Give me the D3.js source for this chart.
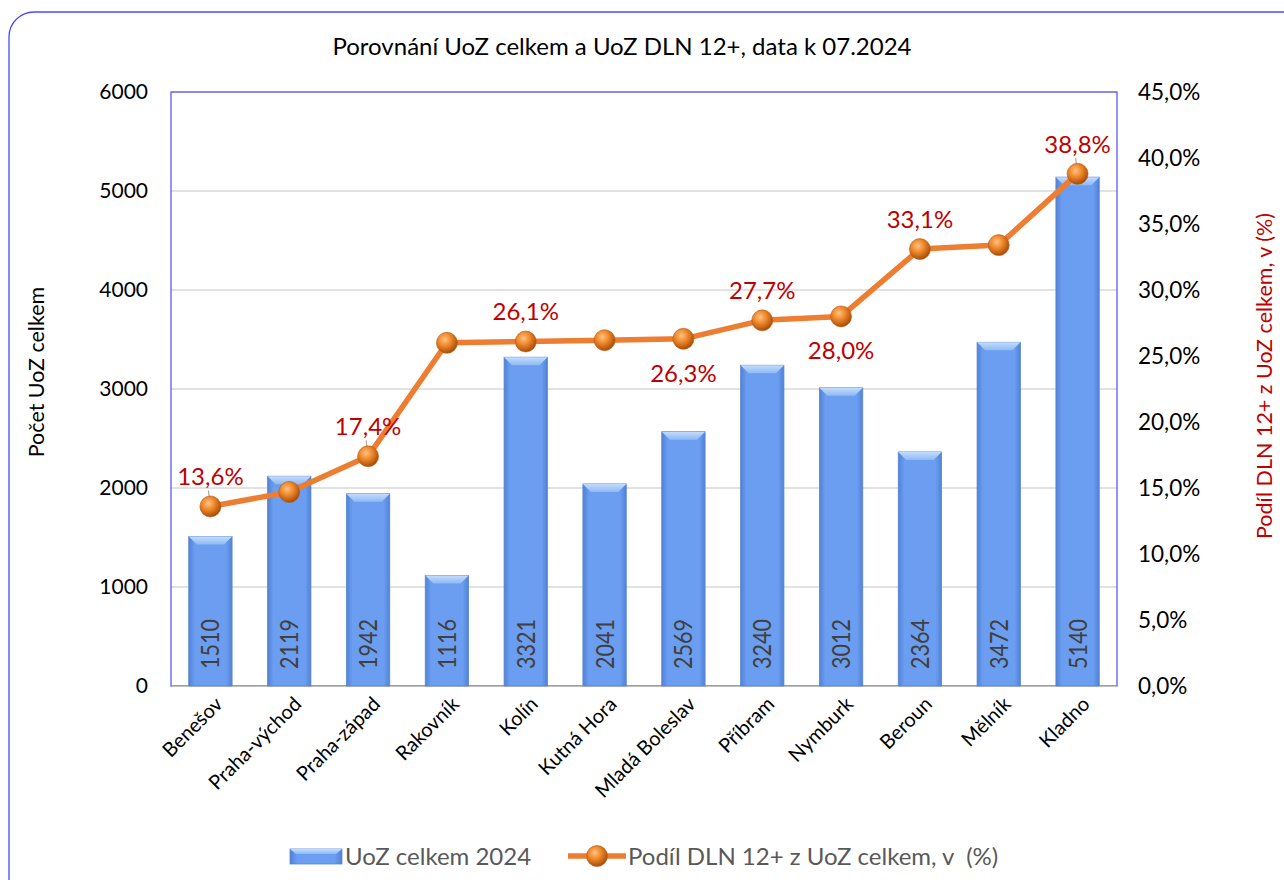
<!DOCTYPE html>
<html>
<head>
<meta charset="utf-8">
<script src="https://cdn.jsdelivr.net/npm/d3@7"></script>
<style>
  body { margin: 0; background: #fff; }
  svg { font-family: Lato, "Open Sans", sans-serif; }
</style>
</head>
<body>
<script>
// data
var districts = ["Benešov", "Praha-východ", "Praha-západ", "Rakovník", "Kolín", "Kutná Hora",
  "Mladá Boleslav", "Příbram", "Nymburk", "Beroun", "Mělník", "Kladno"];
var uozTotal = [1510, 2119, 1942, 1116, 3321, 2041, 2569, 3240, 3012, 2364, 3472, 5140];
var dlnShare = [13.6, 14.7, 17.4, 26.0, 26.1, 26.2, 26.3, 27.7, 28.0, 33.1, 33.4, 38.8];
var leftTicks = [0, 1000, 2000, 3000, 4000, 5000, 6000];
var rightTicks = [0, 5, 10, 15, 20, 25, 30, 35, 40, 45];
// which points get a percentage label, and on which side
var labelSide = ["up", null, "up", null, "up", null, "down", "up", "down", "up", null, "up"];

var svgWidth = 1284;
var svgHeight = 880;

var margin = { top: 92, right: 167, bottom: 194, left: 171 };
var chartWidth = svgWidth - margin.left - margin.right;
var chartHeight = svgHeight - margin.top - margin.bottom;

var svg = d3.select("body")
  .append("svg")
  .attr("width", svgWidth)
  .attr("height", svgHeight);

// gradients
var defs = svg.append("defs");
var barGrad = defs.append("linearGradient").attr("id", "barGrad")
  .attr("x1", 0).attr("x2", 1).attr("y1", 0).attr("y2", 0);
barGrad.append("stop").attr("offset", "0%").attr("stop-color", "#5081d8");
barGrad.append("stop").attr("offset", "14%").attr("stop-color", "#6b9ef0");
barGrad.append("stop").attr("offset", "86%").attr("stop-color", "#6b9ef0");
barGrad.append("stop").attr("offset", "100%").attr("stop-color", "#5081d8");

var bevelGrad = defs.append("linearGradient").attr("id", "bevelGrad")
  .attr("x1", 0).attr("x2", 0).attr("y1", 0).attr("y2", 1);
bevelGrad.append("stop").attr("offset", "0%").attr("stop-color", "#c4dcfc");
bevelGrad.append("stop").attr("offset", "100%").attr("stop-color", "#8dbaf6");

var ball = defs.append("radialGradient").attr("id", "ball")
  .attr("cx", "40%").attr("cy", "35%").attr("r", "65%");
ball.append("stop").attr("offset", "0%").attr("stop-color", "#ffc285");
ball.append("stop").attr("offset", "45%").attr("stop-color", "#f08a2c");
ball.append("stop").attr("offset", "100%").attr("stop-color", "#a84c08");

// outer rounded frame
svg.append("rect")
  .attr("x", 9).attr("y", 12)
  .attr("width", 1300).attr("height", 900)
  .attr("rx", 25)
  .attr("fill", "none")
  .attr("stroke", "#4a4aff")
  .attr("stroke-width", 1.3);

// title
svg.append("text")
  .attr("x", 622).attr("y", 55)
  .attr("text-anchor", "middle")
  .attr("font-size", 24)
  .attr("fill", "#000")
  .text("Porovnání UoZ celkem a UoZ DLN 12+, data k 07.2024");

var chartGroup = svg.append("g")
  .attr("transform", `translate(${margin.left}, ${margin.top})`);

var yScale = d3.scaleLinear().domain([0, 6000]).range([chartHeight, 0]);
var yScale2 = d3.scaleLinear().domain([0, 45]).range([chartHeight, 0]);
var xScale = d3.scaleBand().domain(districts).range([0, chartWidth])
  .paddingInner(0.45).paddingOuter(0.225);

// gridlines
chartGroup.append("g")
  .selectAll("line")
  .data(leftTicks.slice(1))
  .enter().append("line")
  .attr("x1", 0).attr("x2", chartWidth)
  .attr("y1", d => yScale(d)).attr("y2", d => yScale(d))
  .attr("stroke", "#d9d9d9").attr("stroke-width", 1.3);

// plot area border
chartGroup.append("rect")
  .attr("width", chartWidth).attr("height", chartHeight)
  .attr("fill", "none").attr("stroke", "#5a5aff").attr("stroke-width", 1.3);

// left axis
var yAxis = d3.axisLeft(yScale).tickValues(leftTicks).tickSize(0).tickPadding(23)
  .tickFormat(d3.format("d"));
var gl = chartGroup.append("g").call(yAxis);
gl.select(".domain").remove();
gl.selectAll("text").attr("font-size", 21).attr("fill", "#000")
  .attr("font-family", "Lato, sans-serif");

// right axis
var yAxis2 = d3.axisRight(yScale2).tickValues(rightTicks).tickSize(0).tickPadding(21)
  .tickFormat(d => d3.format(".1f")(d).replace(".", ",") + "%");
var gr = chartGroup.append("g").attr("transform", `translate(${chartWidth},0)`).call(yAxis2);
gr.select(".domain").remove();
gr.selectAll("text").attr("font-size", 22.5).attr("fill", "#000")
  .attr("font-family", "Lato, sans-serif");

// x axis
var xAxis = d3.axisBottom(xScale).tickSize(0).tickPadding(12);
var gx = chartGroup.append("g").attr("transform", `translate(0, ${chartHeight})`).call(xAxis);
gx.select(".domain").attr("stroke", "#bfbfbf");
gx.selectAll("text")
  .attr("font-size", 20).attr("fill", "#000")
  .attr("font-family", "Lato, sans-serif")
  .attr("text-anchor", "end")
  .attr("dy", "0.35em")
  .attr("transform", "translate(0,6) rotate(-45)");

// axis titles
svg.append("text")
  .attr("transform", "translate(44, 372) rotate(-90)")
  .attr("text-anchor", "middle")
  .attr("font-size", 21.5).attr("fill", "#000")
  .text("Počet UoZ celkem");

svg.append("text")
  .attr("transform", "translate(1272, 376) rotate(-90)")
  .attr("text-anchor", "middle")
  .attr("font-size", 21.5).attr("fill", "#c00000")
  .text("Podíl DLN 12+ z UoZ celkem, v (%)");

// bars
var bars = chartGroup.append("g").selectAll("g")
  .data(districts)
  .enter().append("g");

bars.append("rect")
  .attr("x", d => xScale(d))
  .attr("y", (d, i) => yScale(uozTotal[i]))
  .attr("width", xScale.bandwidth())
  .attr("height", (d, i) => chartHeight - yScale(uozTotal[i]))
  .attr("fill", "url(#barGrad)")
  .attr("stroke", "#5b86d4").attr("stroke-width", 0.8);

// top bevel
bars.append("path")
  .attr("d", (d, i) => {
    var x0 = xScale(d), x1 = x0 + xScale.bandwidth(), y = yScale(uozTotal[i]), b = 8;
    return `M${x0},${y}L${x1},${y}L${x1 - b},${y + b}L${x0 + b},${y + b}Z`;
  })
  .attr("fill", "url(#bevelGrad)");

// bar value labels
bars.append("text")
  .attr("transform", d => `translate(${xScale(d) + xScale.bandwidth() / 2 + 9}, ${chartHeight - 17}) rotate(-90)`)
  .attr("font-size", 25).attr("fill", "#404040")
  .attr("textLength", 50).attr("lengthAdjust", "spacingAndGlyphs")
  .text((d, i) => uozTotal[i]);

// line
var line = d3.line()
  .x(d => xScale(d) + xScale.bandwidth() / 2)
  .y((d, i) => yScale2(dlnShare[i]));

chartGroup.append("path")
  .datum(districts)
  .attr("d", line)
  .attr("fill", "none")
  .attr("stroke", "#ed7d31")
  .attr("stroke-width", 5.5)
  .attr("stroke-linejoin", "round");

// leader lines for upper labels
chartGroup.append("g").selectAll("line")
  .data(districts.filter((d, i) => [0, 2, 11].includes(i)))
  .enter().append("line")
  .attr("x1", d => xScale(d) + xScale.bandwidth() / 2)
  .attr("x2", d => xScale(d) + xScale.bandwidth() / 2 - 2)
  .attr("y1", d => yScale2(dlnShare[districts.indexOf(d)]))
  .attr("y2", d => yScale2(dlnShare[districts.indexOf(d)]) - 16)
  .attr("stroke", "#a6a6a6").attr("stroke-width", 1.2);

// markers
chartGroup.append("g").selectAll("circle")
  .data(districts)
  .enter().append("circle")
  .attr("cx", d => xScale(d) + xScale.bandwidth() / 2)
  .attr("cy", (d, i) => yScale2(dlnShare[i]))
  .attr("r", 10.5)
  .attr("fill", "url(#ball)")
  .attr("stroke", "#b85b12").attr("stroke-width", 0.6);

// percentage labels
chartGroup.append("g").selectAll("text")
  .data(districts.filter((d, i) => labelSide[i]))
  .enter().append("text")
  .attr("x", d => xScale(d) + xScale.bandwidth() / 2)
  .attr("y", d => {
    var i = districts.indexOf(d);
    return yScale2(dlnShare[i]) + (labelSide[i] === "up" ? -21 : 43);
  })
  .attr("text-anchor", "middle")
  .attr("font-size", 24).attr("fill", "#c00000")
  .text(d => d3.format(".1f")(dlnShare[districts.indexOf(d)]).replace(".", ",") + "%");

// legend
var legend = svg.append("g");
legend.append("rect")
  .attr("x", 290).attr("y", 849).attr("width", 52).attr("height", 15)
  .attr("fill", "url(#barGrad)").attr("stroke", "#5b86d4").attr("stroke-width", 0.8);
legend.append("path")
  .attr("d", "M290,849L342,849L336,854L296,854Z")
  .attr("fill", "url(#bevelGrad)");
legend.append("text")
  .attr("x", 345).attr("y", 865)
  .attr("font-size", 24).attr("fill", "#595959")
  .text("UoZ celkem 2024");
legend.append("line")
  .attr("x1", 568).attr("x2", 626).attr("y1", 856).attr("y2", 856)
  .attr("stroke", "#ed7d31").attr("stroke-width", 5.5);
legend.append("circle")
  .attr("cx", 597).attr("cy", 856).attr("r", 10.5)
  .attr("fill", "url(#ball)").attr("stroke", "#b85b12").attr("stroke-width", 0.6);
legend.append("text")
  .attr("x", 628).attr("y", 865)
  .attr("font-size", 24).attr("fill", "#595959")
  .attr("xml:space", "preserve")
  .text("Podíl DLN 12+ z UoZ celkem, v  (%)");
</script>
</body>
</html>
